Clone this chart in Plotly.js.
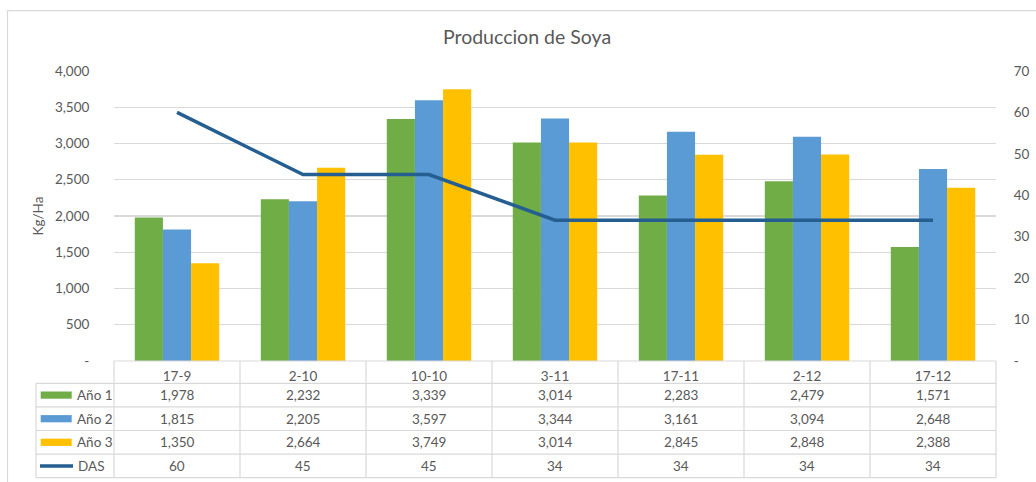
<!DOCTYPE html>
<html>
<head>
<meta charset="utf-8">
<script src="https://cdn.plot.ly/plotly-3.0.1.min.js"></script>
<style>
  html, body { margin: 0; padding: 0; background: #ffffff; }
  #chart { width: 1036px; height: 482px; }
</style>
</head>
<body>
<div id="chart"></div>
<script>
// ---------- data ----------
const categories = ['17-9', '2-10', '10-10', '3-11', '17-11', '2-12', '17-12'];
const anio1 = [1978, 2232, 3339, 3014, 2283, 2479, 1571];
const anio2 = [1815, 2205, 3597, 3344, 3161, 3094, 2648];
const anio3 = [1350, 2664, 3749, 3014, 2845, 2848, 2388];
const das = [60, 45, 45, 34, 34, 34, 34];
const seriesNames = ['Año 1', 'Año 2', 'Año 3', 'DAS'];
const leftTickVals = [0, 500, 1000, 1500, 2000, 2500, 3000, 3500, 4000];
const leftTickText = ['-', '500', '1,000', '1,500', '2,000', '2,500', '3,000', '3,500', '4,000'];
const rightTickVals = [0, 10, 20, 30, 40, 50, 60, 70];
const rightTickText = ['-', '10', '20', '30', '40', '50', '60', '70'];

// ---------- style ----------
const W = 1036, H = 482;
const M = { l: 114, r: 40, t: 71, b: 121 };
const plotW = W - M.l - M.r, plotH = H - M.t - M.b;
const colors = ['#70AD47', '#5B9BD5', '#FFC000', '#255E91'];
const textColor = '#595959';
const gridColor = '#D9D9D9';
const fontFam = 'Lato, "Open Sans", sans-serif';
const fs = 13.5;

// pixel -> paper helpers
const px2x = p => (p - M.l) / plotW;
const px2y = p => (H - M.b - p) / plotH;

const traces = [
  { type: 'bar', name: seriesNames[0], x: categories, y: anio1, marker: { color: colors[0] }, hoverinfo: 'y' },
  { type: 'bar', name: seriesNames[1], x: categories, y: anio2, marker: { color: colors[1] }, hoverinfo: 'y' },
  { type: 'bar', name: seriesNames[2], x: categories, y: anio3, marker: { color: colors[2] }, hoverinfo: 'y' },
  { type: 'scatter', mode: 'lines', name: seriesNames[3], x: categories, y: das, yaxis: 'y2',
    line: { color: colors[3], width: 3.5 }, hoverinfo: 'y' }
];

// ---------- data table below the plot ----------
const tableTop = H - M.b;          // 361
const headerH = 22.3;
const rowH = 23.6;
const legendLeft = 36;
const rows = [anio1, anio2, anio3, das];

const shapes = [];
const annotations = [];

// outer chart border
shapes.push({ type: 'rect', xref: 'paper', yref: 'paper',
  x0: px2x(7.5), x1: px2x(W + 20), y0: px2y(H + 20), y1: px2y(10.7),
  line: { color: gridColor, width: 1.2 }, fillcolor: 'rgba(0,0,0,0)', layer: 'below' });

// horizontal lines
shapes.push({ type: 'line', xref: 'paper', yref: 'paper', x0: 0, x1: 1,
  y0: px2y(tableTop), y1: px2y(tableTop), line: { color: gridColor, width: 1.2 } });
for (let r = 0; r <= rows.length; r++) {
  const yp = px2y(tableTop + headerH + r * rowH);
  shapes.push({ type: 'line', xref: 'paper', yref: 'paper', x0: px2x(legendLeft), x1: 1,
    y0: yp, y1: yp, line: { color: gridColor, width: 1.2 } });
}
// vertical lines at category boundaries
const nCat = categories.length;
for (let k = 0; k <= nCat; k++) {
  shapes.push({ type: 'line', xref: 'paper', yref: 'paper', x0: k / nCat, x1: k / nCat,
    y0: px2y(tableTop), y1: px2y(tableTop + headerH + rows.length * rowH),
    line: { color: gridColor, width: 1.2 } });
}
// legend column left edge
shapes.push({ type: 'line', xref: 'paper', yref: 'paper', x0: px2x(legendLeft), x1: px2x(legendLeft),
  y0: px2y(tableTop + headerH), y1: px2y(tableTop + headerH + rows.length * rowH),
  line: { color: gridColor, width: 1.2 } });

const fmt = v => v.toLocaleString('en-US');
rows.forEach((vals, r) => {
  const cy = tableTop + headerH + r * rowH + rowH / 2;
  // legend key
  if (r < 3) {
    shapes.push({ type: 'rect', xref: 'paper', yref: 'paper',
      x0: px2x(40.7), x1: px2x(71.7), y0: px2y(cy + 3.6), y1: px2y(cy - 3.6),
      fillcolor: colors[r], line: { width: 0 } });
  } else {
    shapes.push({ type: 'line', xref: 'paper', yref: 'paper',
      x0: px2x(40), x1: px2x(73), y0: px2y(cy), y1: px2y(cy),
      line: { color: colors[r], width: 3.5 } });
  }
  annotations.push({ xref: 'paper', yref: 'paper', x: px2x(r < 3 ? 74.5 : 75.5), y: px2y(cy),
    xanchor: 'left', yanchor: 'middle', text: seriesNames[r], showarrow: false,
    font: { family: fontFam, size: fs, color: textColor } });
  vals.forEach((v, i) => {
    annotations.push({ xref: 'x', yref: 'paper', x: categories[i], y: px2y(cy),
      xanchor: 'center', yanchor: 'middle', text: fmt(v), showarrow: false,
      font: { family: fontFam, size: fs, color: textColor } });
  });
});

const layout = {
  width: W, height: H,
  margin: M,
  paper_bgcolor: '#ffffff', plot_bgcolor: '#ffffff',
  font: { family: fontFam, size: fs, color: textColor },
  title: { text: 'Produccion de Soya', x: 527 / W, xref: 'container', xanchor: 'center',
    y: 1 - 37 / H, yref: 'container', yanchor: 'middle',
    font: { family: fontFam, size: 19.5, color: textColor } },
  showlegend: false,
  barmode: 'group', bargap: 0.33, bargroupgap: 0,
  xaxis: { type: 'category', range: [-0.5, nCat - 0.5], showgrid: false, zeroline: false,
    showline: false, ticks: 'outside', ticklen: 3, tickcolor: 'rgba(0,0,0,0)',
    tickfont: { family: fontFam, size: fs, color: textColor }, fixedrange: true },
  yaxis: { range: [0, 4000], tickvals: leftTickVals, ticktext: leftTickText,
    showgrid: true, gridcolor: gridColor, gridwidth: 1.2, zeroline: false, showline: false,
    ticks: 'outside', ticklen: 21, tickcolor: 'rgba(0,0,0,0)',
    tickfont: { family: fontFam, size: fs, color: textColor },
    title: { text: 'Kg/Ha', standoff: 8, font: { family: fontFam, size: fs, color: textColor } },
    fixedrange: true },
  yaxis2: { range: [0, 70], overlaying: 'y', side: 'right', tickvals: rightTickVals, ticktext: rightTickText,
    showgrid: false, zeroline: false, showline: false,
    ticks: 'outside', ticklen: 14, tickcolor: 'rgba(0,0,0,0)',
    tickfont: { family: fontFam, size: fs, color: textColor }, fixedrange: true },
  shapes: shapes,
  annotations: annotations
};

Plotly.newPlot('chart', traces, layout, { displayModeBar: false, staticPlot: true });
</script>
</body>
</html>
